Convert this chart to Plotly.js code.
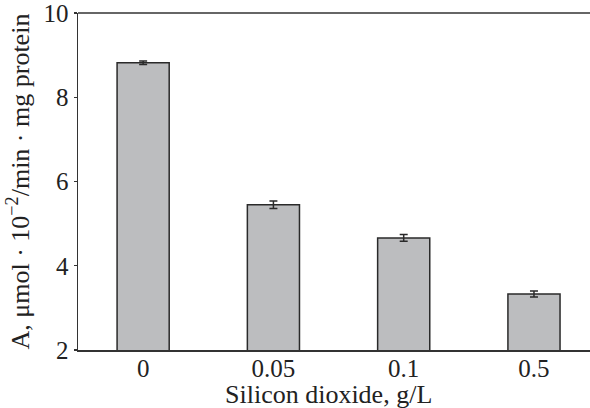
<!DOCTYPE html>
<html>
<head>
<meta charset="utf-8">
<script src="https://cdn.plot.ly/plotly-3.0.1.min.js"></script>
<style>html,body{margin:0;padding:0;background:#fff;}#chart{width:590px;height:408px;}</style>
</head>
<body>
<div id="chart"></div>
<script>
const categories = ["0", "0.05", "0.1", "0.5"];
const activity = [8.82, 5.45, 4.66, 3.33];
const errors = [0.04, 0.09, 0.08, 0.07];
const yTicks = [2, 4, 6, 8, 10];
const xTitle = "Silicon dioxide, g/L";
const yTitle = "A, μmol · 10<sup>−2</sup>/min · mg protein";

const font = "Liberation Serif";

const trace = {
  type: "bar",
  x: categories,
  y: activity,
  width: 0.4,
  marker: {color: "#bcbdbf", line: {color: "#2a2a2a", width: 1.5}},
  error_y: {type: "data", array: errors, visible: true, color: "#2a2a2a", thickness: 1.5, width: 4},
  hoverinfo: "none"
};

const layout = {
  width: 590, height: 408,
  margin: {l: 78, r: 0, t: 13, b: 58},
  paper_bgcolor: "#fff", plot_bgcolor: "#fff",
  showlegend: false,
  font: {family: font, size: 25, color: "#222"},
  xaxis: {
    type: "category",
    range: [-0.5, 3.43],
    showgrid: false, zeroline: false,
    showline: true, linecolor: "#333", linewidth: 1.5, mirror: false,
    ticks: "",
    ticklabelstandoff: -5,
    tickfont: {family: font, size: 25, color: "#222"},
    automargin: false
  },
  yaxis: {
    range: [2, 10],
    tickvals: yTicks,
    showgrid: false, zeroline: false,
    showline: true, linecolor: "#333", linewidth: 1.5,
    ticks: "outside", ticklen: 3, tickcolor: "#333", tickwidth: 1.2,
    tickfont: {family: font, size: 25, color: "#222"},
    ticklabeloverflow: "allow",
    automargin: false
  },
  annotations: [{
    text: yTitle, xref: "paper", yref: "paper", x: 0, y: 0.5,
    xanchor: "center", yanchor: "middle", xshift: -59, textangle: -90,
    showarrow: false, font: {family: font, size: 26, color: "#222"}
  }, {
    text: xTitle, xref: "paper", yref: "paper", x: 0.5, y: 0,
    xanchor: "center", yanchor: "bottom", yshift: -61, xshift: -6,
    showarrow: false, font: {family: font, size: 26, color: "#222"}
  }],
  shapes: [{type: "line", xref: "paper", yref: "paper", x0: 0, x1: 1, y0: 1, y1: 1, line: {color: "#333", width: 1.5}}]
};

Plotly.newPlot("chart", [trace], layout, {displayModeBar: false, staticPlot: true});
</script>
</body>
</html>
